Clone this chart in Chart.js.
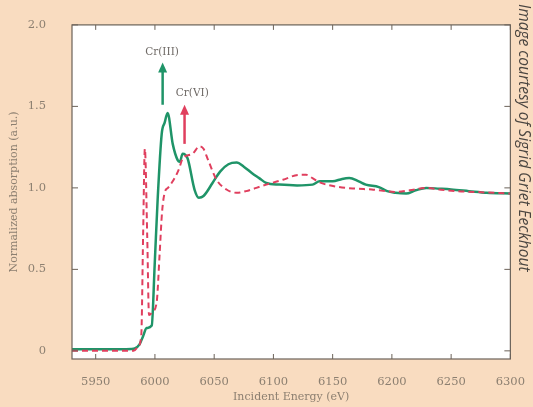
<!DOCTYPE html>
<html>
<head>
<meta charset="utf-8">
<script src="https://cdn.jsdelivr.net/npm/chart.js@4"></script>
<style>
  html, body { margin: 0; padding: 0; background: #f9dcc0; }
  #wrap { width: 533px; height: 407px; position: relative; }
</style>
</head>
<body>
<div id="wrap"><canvas id="xanes" width="533" height="407"></canvas></div>
<script>
// Cr K-edge XANES
const crIIIEnergy = [5930, 5960, 5980, 5983, 5987, 5990, 5993, 5997.3, 5999.8, 6002.3, 6005.7,
  6008.2, 6010.7, 6015, 6019.2, 6021, 6023.4, 6027.6, 6033.4, 6037, 6041, 6048.6, 6055,
  6062, 6069, 6075, 6082, 6088, 6094, 6105, 6120, 6133, 6139, 6150, 6158, 6164, 6172, 6178, 6189,
  6196, 6203, 6212, 6220, 6229, 6240, 6250, 6265, 6280, 6300];
const crIIIAbs = [0.01, 0.01, 0.012, 0.015, 0.04, 0.09, 0.14, 0.155, 0.53, 0.93, 1.33,
  1.40, 1.46, 1.27, 1.17, 1.16, 1.21, 1.18, 0.99, 0.94, 0.95, 1.03, 1.10,
  1.145, 1.155, 1.13, 1.09, 1.06, 1.03, 1.02, 1.015, 1.02, 1.04, 1.04, 1.055, 1.06, 1.04, 1.02, 1.005,
  0.98, 0.97, 0.965, 0.985, 1.0, 0.995, 0.99, 0.98, 0.97, 0.965];

const crVIEnergy = [5930, 5982, 5986, 5988.5, 5990, 5991.5, 5993.5, 5995, 5998, 6001.5, 6004,
  6006, 6008.2, 6011, 6015, 6020, 6023.4, 6031.8, 6037.7, 6041, 6044.4, 6052, 6060.4, 6068.8, 6077,
  6085.6, 6094, 6108, 6121.8, 6127.6, 6133, 6138.6, 6155.4, 6170, 6183, 6203, 6215, 6228.6, 6240,
  6254, 6270, 6300];
const crVIAbs = [0.0, 0.0, 0.03, 0.1, 0.7, 1.24, 0.7, 0.22, 0.24, 0.3, 0.6,
  0.85, 0.97, 1.0, 1.04, 1.11, 1.18, 1.21, 1.255, 1.24, 1.18, 1.05, 0.99, 0.97, 0.98,
  1.0, 1.02, 1.05, 1.08, 1.08, 1.06, 1.035, 1.005, 0.995, 0.99, 0.975, 0.985, 1.0, 0.99,
  0.98, 0.975, 0.965];

const xTicks = [5950, 6000, 6050, 6100, 6150, 6200, 6250, 6300];
const yTicks = [0, 0.5, 1.0, 1.5, 2.0];

// arrow annotations, in data units
const arrowLabels = ['Cr(III)', 'Cr(VI)'];
const arrowEnergy = [6006.5, 6025];
const arrowFrom = [1.51, 1.27];
const arrowTo = [1.77, 1.51];
const labelEnergy = [6006, 6031.5];
const labelY = [1.83, 1.58];

const GREEN = '#1f9468';
const RED = '#e03f5e';
const TXT = '#8c7f70';
const AXIS = '#6b6259';
const SERIF = '"DejaVu Serif", serif';

const toPoints = (xs, ys) => xs.map((x, i) => ({ x: x, y: ys[i] }));

const frame = {
  id: 'frame',
  afterDatasetsDraw(chart) {
    const { ctx, chartArea: a, scales: { x, y } } = chart;
    ctx.save();
    ctx.strokeStyle = AXIS;
    ctx.lineWidth = 1.2;
    ctx.strokeRect(a.left, a.top, a.right - a.left, a.bottom - a.top);
    ctx.lineWidth = 1;
    xTicks.forEach(v => {
      const px = x.getPixelForValue(v);
      ctx.beginPath();
      ctx.moveTo(px, a.bottom); ctx.lineTo(px, a.bottom - 5);
      ctx.moveTo(px, a.top); ctx.lineTo(px, a.top + 5);
      ctx.stroke();
    });
    yTicks.forEach(v => {
      const py = y.getPixelForValue(v);
      ctx.beginPath();
      ctx.moveTo(a.left, py); ctx.lineTo(a.left + 6, py);
      ctx.moveTo(a.right, py); ctx.lineTo(a.right - 6, py);
      ctx.stroke();
    });

    // arrows
    const cols = [GREEN, RED];
    arrowLabels.forEach((lab, i) => {
      const ax = x.getPixelForValue(arrowEnergy[i]);
      const y0 = y.getPixelForValue(arrowFrom[i]);
      const y1 = y.getPixelForValue(arrowTo[i]);
      ctx.strokeStyle = cols[i];
      ctx.fillStyle = cols[i];
      ctx.lineWidth = 2.5;
      ctx.beginPath();
      ctx.moveTo(ax, y0); ctx.lineTo(ax, y1 + 8);
      ctx.stroke();
      ctx.beginPath();
      ctx.moveTo(ax, y1); ctx.lineTo(ax - 4.5, y1 + 10); ctx.lineTo(ax + 4.5, y1 + 10);
      ctx.closePath();
      ctx.fill();
      ctx.fillStyle = '#6f6a66';
      ctx.font = '10.5px ' + SERIF;
      ctx.textAlign = 'center';
      ctx.textBaseline = 'middle';
      ctx.fillText(lab, x.getPixelForValue(labelEnergy[i]), y.getPixelForValue(labelY[i]));
    });

    // credit line
    ctx.save();
    ctx.translate(523, 4);
    ctx.rotate(Math.PI / 2);
    ctx.fillStyle = '#4a4540';
    ctx.font = 'italic 15.5px "Open Sans", sans-serif';
    ctx.textAlign = 'left';
    ctx.textBaseline = 'middle';
    ctx.fillText('Image courtesy of Sigrid Griet Eeckhout', 0, 0);
    ctx.restore();
    ctx.restore();
  }
};

const plotBg = {
  id: 'plotBg',
  beforeDraw(chart) {
    const { ctx, chartArea: a } = chart;
    ctx.save();
    ctx.fillStyle = '#f9dcc0';
    ctx.fillRect(0, 0, chart.width, chart.height);
    ctx.fillStyle = '#ffffff';
    ctx.fillRect(a.left, a.top, a.right - a.left, a.bottom - a.top);
    ctx.restore();
  }
};

new Chart(document.getElementById('xanes').getContext('2d'), {
  type: 'line',
  data: {
    datasets: [{
      label: 'Cr(VI)',
      data: toPoints(crVIEnergy, crVIAbs),
      borderColor: RED,
      borderWidth: 2,
      borderDash: [6, 4],
      pointRadius: 0,
      cubicInterpolationMode: 'monotone'
    }, {
      label: 'Cr(III)',
      data: toPoints(crIIIEnergy, crIIIAbs),
      borderColor: GREEN,
      borderWidth: 2.5,
      pointRadius: 0,
      cubicInterpolationMode: 'monotone'
    }]
  },
  options: {
    responsive: false,
    animation: false,
    events: [],
    layout: { padding: { left: 0, right: 21, top: 16, bottom: 0 } },
    plugins: { legend: { display: false }, tooltip: { enabled: false } },
    scales: {
      x: {
        type: 'linear',
        min: 5930,
        max: 6300,
        afterBuildTicks: s => { s.ticks = xTicks.map(v => ({ value: v })); },
        afterFit: s => { s.height = 48; },
        grid: { display: false },
        border: { display: false },
        ticks: {
          color: TXT,
          padding: 8,
          maxRotation: 0,
          font: { family: SERIF, size: 11.5 },
          callback: v => String(v)
        },
        title: {
          display: true,
          text: 'Incident Energy (eV)',
          color: TXT,
          padding: { top: 0, bottom: 3 },
          font: { family: SERIF, size: 11 }
        }
      },
      y: {
        min: -0.05,
        max: 2.0,
        afterBuildTicks: s => { s.ticks = yTicks.map(v => ({ value: v })); },
        afterFit: s => { s.width = 72; },
        grid: { display: false },
        border: { display: false },
        ticks: {
          color: TXT,
          padding: 18,
          font: { family: SERIF, size: 11.5 },
          callback: v => (v === 0 ? '0' : v.toFixed(1))
        },
        title: {
          display: true,
          text: 'Normalized absorption (a.u.)',
          color: TXT,
          padding: { top: 8, bottom: 0 },
          font: { family: SERIF, size: 11 }
        }
      }
    }
  },
  plugins: [plotBg, frame]
});
</script>
</body>
</html>
